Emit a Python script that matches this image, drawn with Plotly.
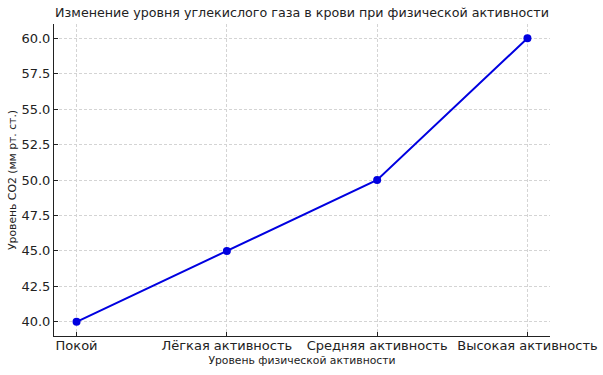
import plotly.graph_objects as go

categories = ["Покой", "Лёгкая активность", "Средняя активность", "Высокая активность"]
co2_values = [40, 45, 50, 60]
y_ticks = [40.0, 42.5, 45.0, 47.5, 50.0, 52.5, 55.0, 57.5, 60.0]

fig = go.Figure()
fig.add_trace(go.Scatter(
    x=list(range(len(categories))), y=co2_values, mode="lines+markers",
    line=dict(color="#0000e0", width=2),
    marker=dict(color="#0000e0", size=8),
))

font = "DejaVu Sans, sans-serif"
fig.update_layout(
    width=603, height=375,
    margin=dict(l=54, r=53, t=24, b=39),
    paper_bgcolor="white", plot_bgcolor="white",
    showlegend=False,
    font=dict(family=font, color="#222"),
    title=dict(text="Изменение уровня углекислого газа в крови при физической активности",
               x=0.5, xref="paper", y=1 - 13/375, yanchor="middle",
               font=dict(size=12.7, color="#222")),
)
fig.update_xaxes(
    range=[-0.15, 3.15], automargin=False,
    tickmode="array", tickvals=list(range(len(categories))), ticktext=categories,
    tickfont=dict(size=13, color="#222"), ticklabelstandoff=-3,
    ticks="inside", ticklen=4, tickcolor="#222",
    showline=True, linecolor="#222", linewidth=1, mirror=False,
    showgrid=True, gridcolor="#d4d4d4", griddash="3px,2px", gridwidth=0.6,
    zeroline=False,
    title=dict(text="Уровень физической активности", font=dict(size=10.8, color="#222"), standoff=4),
)
fig.update_yaxes(
    range=[39, 61], automargin=False,
    tickmode="array", tickvals=y_ticks, ticktext=[f"{v:.1f}" for v in y_ticks],
    tickfont=dict(size=13, color="#222"),
    ticks="inside", ticklen=4, tickcolor="#222",
    showline=True, linecolor="#222", linewidth=1, mirror=False,
    showgrid=True, gridcolor="#d4d4d4", griddash="3px,2px", gridwidth=0.6,
    zeroline=False,
    title=dict(text="Уровень CO2 (мм рт. ст.)", font=dict(size=10.8, color="#222"), standoff=2),
)
fig.write_html("out.html")
